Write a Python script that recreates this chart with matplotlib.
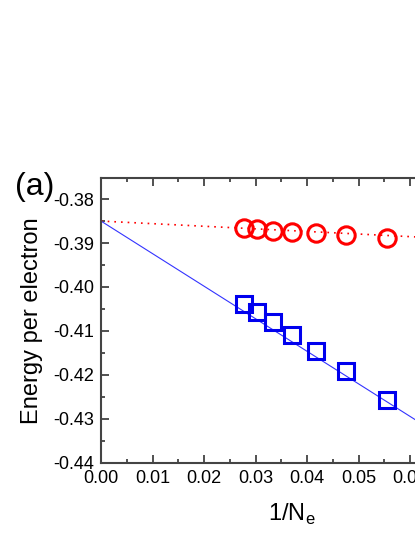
import numpy as np
import matplotlib.pyplot as plt
from matplotlib.ticker import MultipleLocator

plt.rcParams["font.family"] = ["Liberation Sans", "DejaVu Sans"]

# system sizes and inverse
inv_n = [1 / 36, 1 / 33, 1 / 30, 1 / 27, 1 / 24, 1 / 21, 1 / 18]

# energy per electron
e_circle = [-0.3866, -0.3868, -0.3872, -0.3874, -0.3877, -0.3881, -0.3889]
e_square = [-0.4038, -0.4058, -0.4080, -0.4110, -0.4146, -0.4192, -0.4258]

# linear extrapolation lines (intercept, slope)
fit_circle = [-0.3850, -0.059]
fit_square = [-0.3850, -0.741]

xlim = [0.0, 0.074]
ylim = [-0.44, -0.3752]

fig = plt.figure(figsize=(4.15, 5.37), dpi=100)
ax = fig.add_axes([0.2434, 0.1384, 0.074 * 5150 / 415, 0.5301])

xs = np.array(xlim)
ax.plot(xs, fit_circle[0] + fit_circle[1] * xs, ls=(0, (1, 3)), color="red", lw=1.2)
ax.plot(xs, fit_square[0] + fit_square[1] * xs, color="#3333ff", lw=0.8)

ax.plot(inv_n, e_circle, "o", ms=12.5, mfc="none", mec="red", mew=2.2)
ax.plot(inv_n, e_square, "s", ms=11, mfc="none", mec="#0000ee", mew=2.2)

ax.set_xlim(xlim)
ax.set_ylim(ylim)
ax.xaxis.set_major_locator(MultipleLocator(0.01))
ax.xaxis.set_minor_locator(MultipleLocator(0.005))
ax.yaxis.set_major_locator(MultipleLocator(0.01))
ax.yaxis.set_minor_locator(MultipleLocator(0.005))
ax.xaxis.set_major_formatter(lambda v, p: f"{v:.2f}")
ax.yaxis.set_major_formatter(lambda v, p: f"{v:.2f}")
ax.tick_params(which="both", direction="in", top=True, right=True,
               labelsize=13, color="#333333", width=1.2)
ax.tick_params(which="major", length=6, pad=5)
ax.tick_params(which="minor", length=3)
for s in ax.spines.values():
    s.set_linewidth(1.5)
    s.set_color("#444444")

ax.set_xlabel("1/N$_\\mathregular{e}$", fontsize=17, labelpad=11)
ax.set_ylabel("Energy per electron", fontsize=17, labelpad=7)
fig.text(0.035, 0.636, "(a)", fontsize=23)

fig.savefig("out.png", dpi=100)
